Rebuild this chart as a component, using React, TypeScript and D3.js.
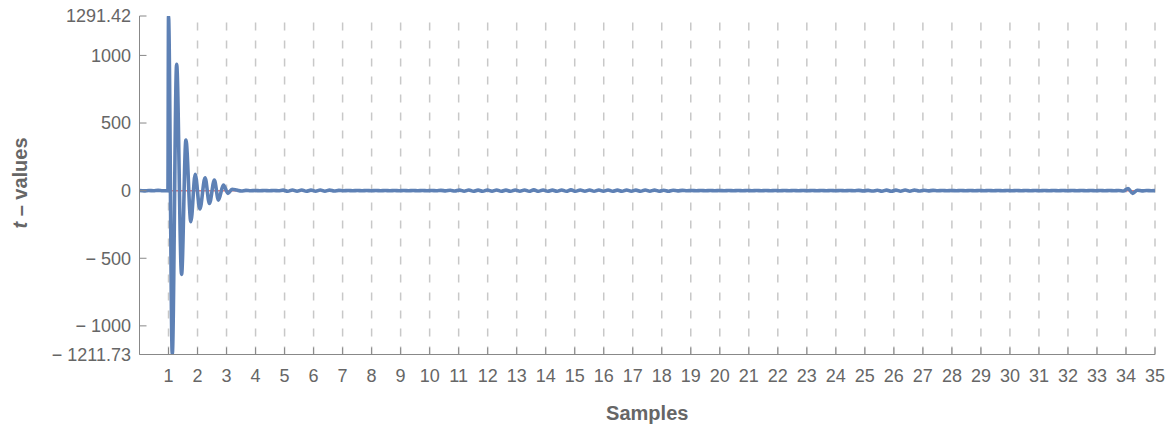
import React from "react";
import * as d3 from "d3";

// ---- data ----
const xTicks = d3.range(1, 36);
const yTickValues = [1291.42, 1000, 500, 0, -500, -1000, -1211.73];
const yTickLabels = ["1291.42", "1000", "500", "0", "\u2212 500", "\u2212 1000", "\u2212 1211.73"];

const preStart = 0;
const preStep = 0.16;
const preValues = [1, -2, 1, -1, 2, -1, 0];

const transientX = [0.98, 1.0, 1.13, 1.28, 1.45, 1.6, 1.77, 1.92, 2.08, 2.26, 2.41, 2.58, 2.72, 2.89, 3.05, 3.19];
const transientV = [0, 1291.42, -1211.73, 934, -619, 374, -230, 120, -136, 95, -95, 78, -70, 41, -20, 10];

const tailStart = 3.35;
const tailStep = 0.16;
const tailValues = [
  4, -3, 2, -1, 1, -1, 1, -1, 1, -1,
  4, -5, 5, -4, 5, -5, 4, -4, 5, -4,
  4, -3, 2, -1, 1, -1, 1, -1, 1, -1,
  1, -1, 1, -1, 1, -1, 1, -1, 1, -1,
  1, -1, 1, -1, 2, -2, 3, -3, 4, -4,
  5, -5, 4, -5, 5, -4, 5, -5, 4, -5,
  5, -4, 5, -5, 6, -5, 5, -5, 4, -5,
  5, -5, 6, -5, 5, -4, 5, -5, 5, -4,
  5, -5, 4, -5, 5, -4, 4, -5, 5, -4,
  4, -4, 3, -4, 3, -2, 2, -1, 1, -1,
  1, -1, 1, -1, 1, -1, 1, -1, 1, -1,
  1, -1, 1, -1, 1, -1, 1, -1, 1, -1,
  1, -1, 1, -1, 1, -1, 1, -1, 1, -1,
  1, -1, 1, -1, 2, -2, 2, -3, 3, -4,
  4, -5, 4, -4, 5, -4, 4, -3, 3, -2,
  2, -1, 1, -1, 1, -1, 1, -1, 1, -1,
  1, -1, 1, -1, 1, -1, 1, -1, 1, -1,
  1, -1, 1, -1, 1, -1, 1, -1, 1, -1,
  1, -1, 1, -1, 1, -1, 1, -1, 1, -1,
  1, -3, 16, -20, 3, -2, 1, -1, 0,
];

const W = 1174;
const H = 430;
const left = 139.5;
const right = 1155;
const top = 16;
const bottom = 354.5;

const textColor = "#666666";
const axisColor = "#888888";
const font = "'Liberation Sans', Arial, Helvetica, sans-serif";

export default function App() {
  const x = d3.scaleLinear().domain([0, 35]).range([left, right]);
  const y = d3.scaleLinear().domain([-1211.73, 1291.42]).range([bottom, top]);

  const points: [number, number][] = [];
  preValues.forEach((v, i) => points.push([preStart + i * preStep, v]));
  transientX.forEach((tx, i) => points.push([tx, transientV[i]]));
  tailValues.forEach((v, i) => {
    const tx = Math.min(35, tailStart + i * tailStep);
    points.push([tx, v]);
  });

  const line = d3
    .line<[number, number]>()
    .x((d) => x(d[0]))
    .y((d) => y(d[1]))
    .curve(d3.curveMonotoneX);

  return (
    <svg width={W} height={H} style={{ position: "absolute", left: 0, top: 0 }} fontFamily={font}>
      <defs>
        <clipPath id="plot">
          <rect x={left} y={top} width={right - left} height={bottom - top} />
        </clipPath>
      </defs>
      {/* grid */}
      {xTicks.map((t) => (
        <line
          key={"g" + t}
          x1={x(t)}
          x2={x(t)}
          y1={bottom}
          y2={top}
          stroke="#c8c8c8"
          strokeWidth={1.5}
          strokeDasharray="8,10"
        />
      ))}
      {/* zero reference line */}
      <line x1={x(0)} x2={x(35)} y1={y(0)} y2={y(0)} stroke="#e8797a" strokeWidth={1.5} />
      {/* data */}
      <g clipPath="url(#plot)">
        <path
          d={line(points) || ""}
          fill="none"
          stroke="#5e81b5"
          strokeWidth={3.6}
          strokeLinejoin="round"
        />
      </g>
      {/* axes */}
      <line x1={left} x2={left} y1={top} y2={bottom} stroke={axisColor} strokeWidth={1} />
      <line x1={left} x2={right} y1={bottom} y2={bottom} stroke={axisColor} strokeWidth={1} />
      {yTickValues.map((v, i) => (
        <g key={"y" + i}>
          <line x1={left} x2={left + 7} y1={y(v)} y2={y(v)} stroke={axisColor} strokeWidth={1} />
          <text
            x={131}
            y={y(v)}
            dy="0.35em"
            textAnchor="end"
            fontSize={18}
            fill={textColor}
          >
            {yTickLabels[i]}
          </text>
        </g>
      ))}
      {xTicks.map((t) => (
        <g key={"x" + t}>
          <line x1={x(t)} x2={x(t)} y1={bottom} y2={bottom - 7} stroke={axisColor} strokeWidth={1} />
          <text x={x(t)} y={381.5} textAnchor="middle" fontSize={18} fill={textColor}>
            {t}
          </text>
        </g>
      ))}
      <text
        x={(left + right) / 2}
        y={420}
        textAnchor="middle"
        fontSize={20}
        fontWeight="bold"
        fill={textColor}
      >
        Samples
      </text>
      <text
        transform={`translate(27, 183) rotate(-90)`}
        textAnchor="middle"
        fontSize={20}
        fontWeight="bold"
        fill={textColor}
      >
        <tspan fontStyle="italic">t</tspan>
        <tspan>{" \u2013 values"}</tspan>
      </text>
    </svg>
  );
}
